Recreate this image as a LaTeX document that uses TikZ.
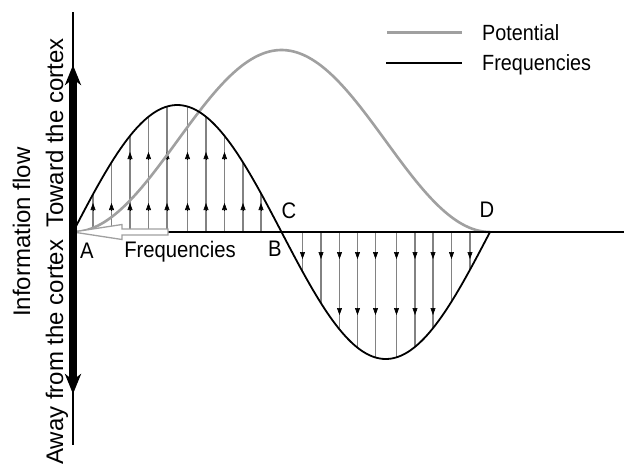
\documentclass[tikz,border=0pt]{standalone}
\usepackage{fontspec}
\setmainfont{Liberation Sans}
\usetikzlibrary{arrows.meta}
\definecolor{potgray}{RGB}{160,160,160}
\definecolor{linegray}{RGB}{130,130,130}
\tikzset{
  lbl/.style={inner sep=0pt, xscale=0.9, font=\fontsize{22.5}{26}\selectfont},
  leg/.style={inner sep=0pt, xscale=0.9, anchor=base west, font=\fontsize{22}{26}\selectfont},
  vlbl/.style={inner sep=0pt, rotate=90, anchor=base west, font=\fontsize{24}{28}\selectfont},
  vline/.style={linegray, line width=1.1pt},
  ahead/.style={black, line width=0.6pt, -{Triangle[length=7pt,width=5pt]}},
  freq/.style={black, line width=1.8pt},
  pot/.style={potgray, line width=2.6pt},
}
\begin{document}
\begin{tikzpicture}[x=1pt,y=-1pt]
\useasboundingbox (0,0) rectangle (624,467);
% vertical field lines with arrows (upward lobe)
\foreach \dd/\uu in {20/0, 38.5/0, 57/1, 75.5/1, 94/1, 114.5/1, 133/1, 151.5/1, 170/0, 188/0}{
  \pgfmathsetmacro{\xx}{73+\dd}
  \pgfmathsetmacro{\yc}{232-127*sin(\dd*0.863309)}
  \draw[vline] (\xx,232) -- (\xx,\yc);
  \draw[ahead] (\xx,210) -- (\xx,203);
  \ifnum\uu=1 \draw[ahead] (\xx,159) -- (\xx,152); \fi
}
% downward lobe
\foreach \dd/\uu in {21/0, 39.5/0, 58/1, 76/1, 94/1, 115/1, 133.5/1, 151.5/1, 170/0, 188.5/0}{
  \pgfmathsetmacro{\xx}{281.5+\dd}
  \pgfmathsetmacro{\yc}{232+127*sin(\dd*0.863309)}
  \draw[vline] (\xx,232) -- (\xx,\yc);
  \draw[ahead] (\xx,252) -- (\xx,259);
  \ifnum\uu=1 \draw[ahead] (\xx,308) -- (\xx,315); \fi
}
% curves
\draw[pot] plot[domain=73:490, samples=120] (\x, {232-91*(1-cos((\x-73)*0.863309))});
\draw[freq] plot[domain=73:490, samples=160] (\x, {232-127*sin((\x-73)*0.863309)});
% horizontal axis
\coordinate (axs) at (168,232);
\coordinate (axe) at (624,232);
\draw[black, line width=1.6pt] (axs) -- (axe);
% hollow arrow
\draw[potgray, line width=1.3pt, fill=white] (168,229) -- (122,229) -- (122,224.5) -- (73,232) -- (122,239.5) -- (122,235) -- (168,235) -- cycle;
% vertical axis
\coordinate (vt) at (73,12);
\coordinate (vb) at (73,445);
\coordinate (vo) at (73,232);
\coordinate (vat) at (73,65);
\coordinate (vab) at (73,394);
\draw[black, line width=2pt] (vt) -- (vb);
\draw[black, line width=7.5pt, -{Stealth[length=20pt,width=16pt,inset=6pt]}] (vo) -- (vat);
\draw[black, line width=7.5pt, -{Stealth[length=20pt,width=16pt,inset=6pt]}] (vo) -- (vab);
% labels
\node[lbl, anchor=base] (A) at (87,258.5) {A};
\node[lbl, anchor=base] (B) at (275,256.5) {B};
\node[lbl, anchor=base] (C) at (289,218.5) {C};
\node[lbl, anchor=base] (D) at (487,217.5) {D};
\node[lbl, anchor=base] (fl) at (180,257.5) {Frequencies};
% vertical labels
\node[vlbl] (info) at (30,317) {Information flow};
\node[vlbl] (away) at (63,465) {Away from the cortex};
\node[vlbl] (toward) at (63,228) {Toward the cortex};
% legend
\coordinate (lg1a) at (387,32.5);
\coordinate (lg1b) at (462,32.5);
\coordinate (lg2a) at (386,63);
\coordinate (lg2b) at (462,63);
\draw[pot] (lg1a) -- (lg1b);
\draw[freq] (lg2a) -- (lg2b);
\node[leg] (lp) at (482,40.5) {Potential};
\node[leg] (lf) at (482,70.5) {Frequencies};
\end{tikzpicture}
\end{document}
